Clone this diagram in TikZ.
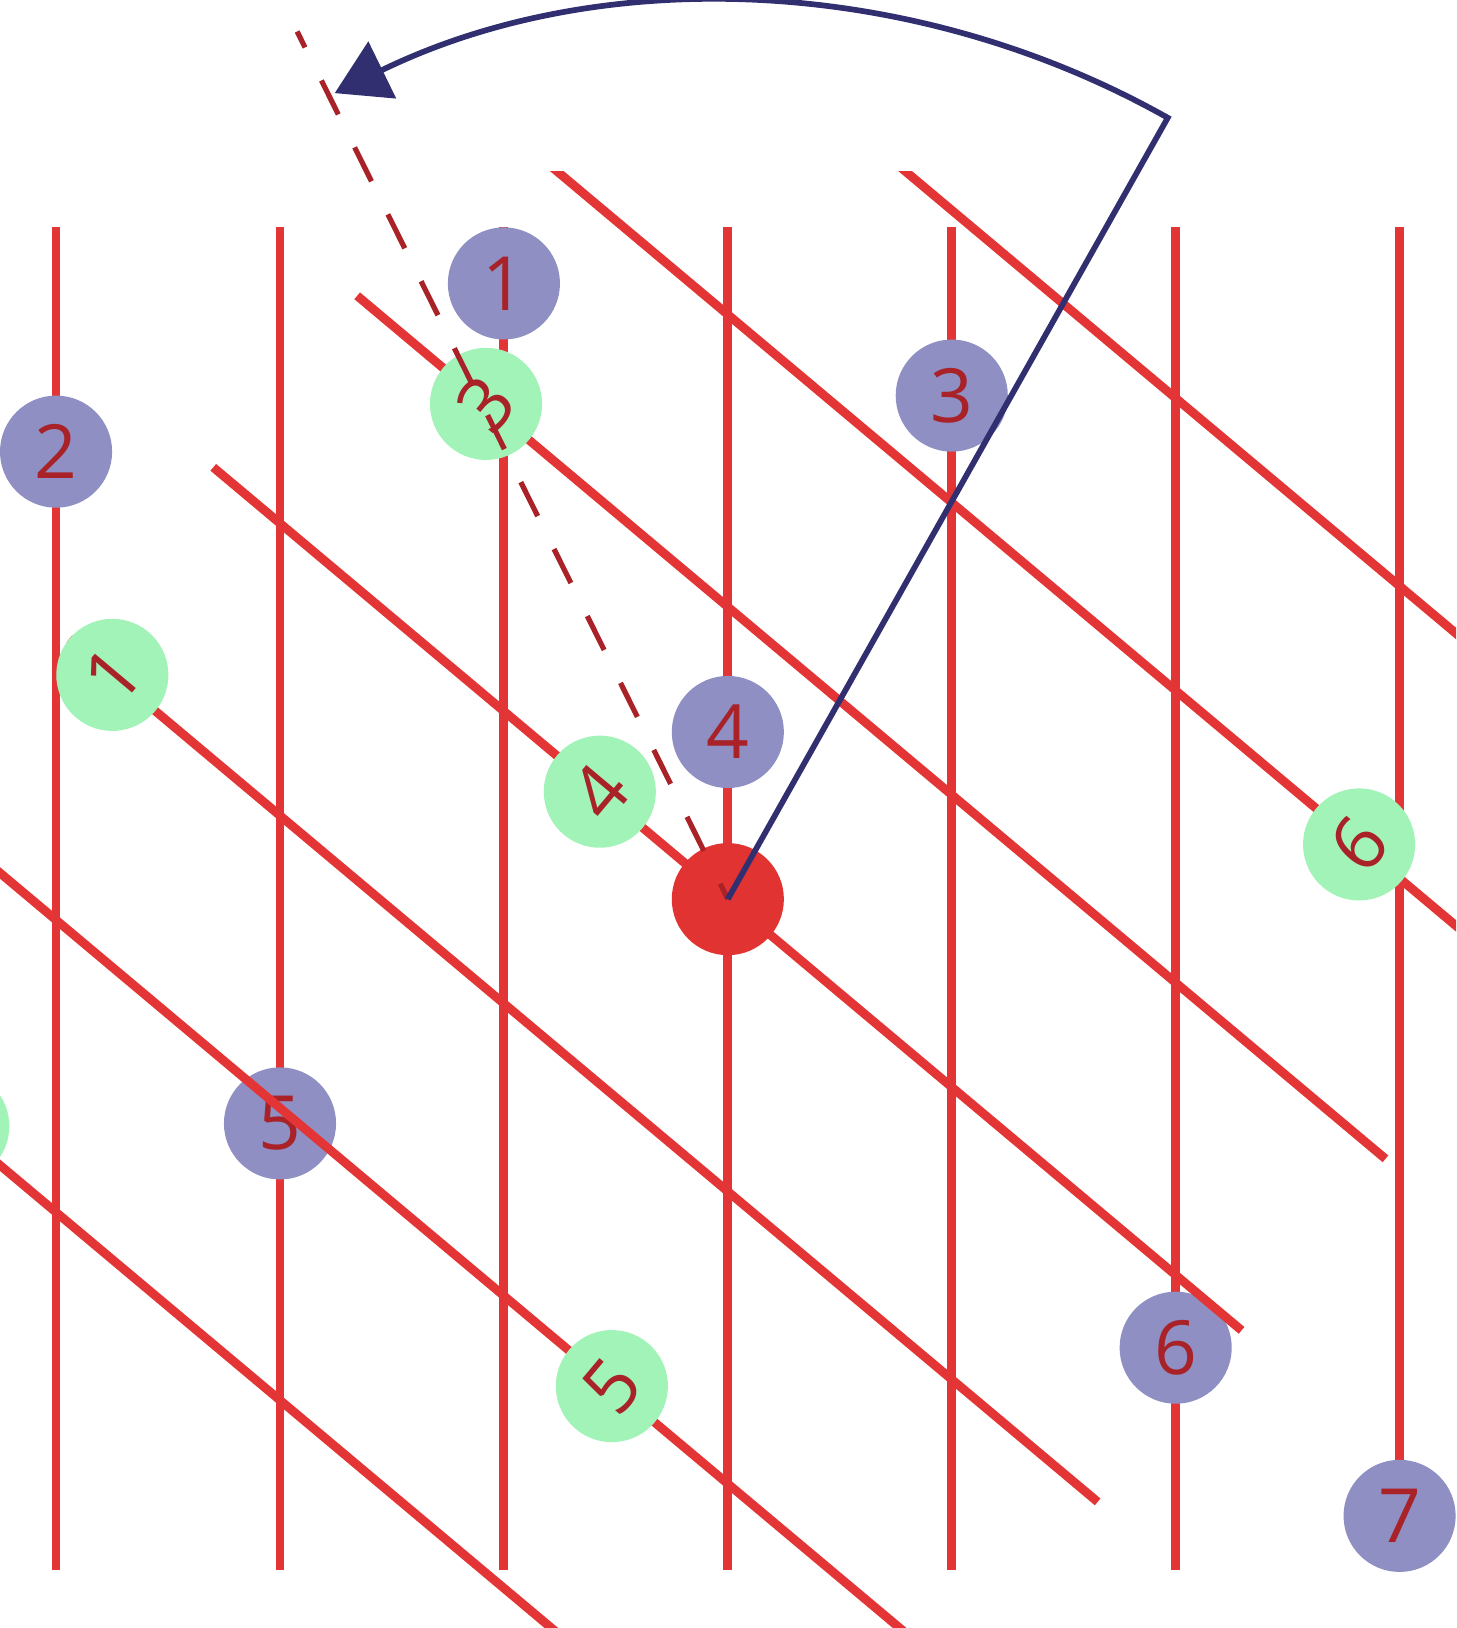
\documentclass[tikz,border=0pt]{standalone}
\usepackage{fontspec}
\setmainfont{Open Sans}
\usetikzlibrary{arrows.meta}
\definecolor{linered}{HTML}{E33535}
\definecolor{ballpurple}{HTML}{8F8FC3}
\definecolor{ballgreen}{HTML}{A2F3B8}
\definecolor{ballred}{HTML}{E23333}
\definecolor{textred}{HTML}{A82228}
\definecolor{navyline}{HTML}{312F70}
\begin{document}
\begin{tikzpicture}[x=0.02cm,y=-0.02cm,
  gridline/.style={draw=linered,line width=0.17cm},
  pball/.style={circle,fill=ballpurple,minimum size=2.16cm,inner sep=0pt,
    text=textred,font=\fontsize{41}{48}\selectfont},
  gball/.style={pball,fill=ballgreen,rotate=50},
  rball/.style={circle,fill=ballred,minimum size=2.16cm,inner sep=0pt},
  dashline/.style={draw=textred,line width=0.1cm,
    dash pattern=on 0.73cm off 0.71cm,dash phase=0.4cm},
  arcline/.style={draw=navyline,line width=0.11cm,
    -{Triangle[length=1.02cm,width=1.2cm]}}
]
\useasboundingbox (0,0) rectangle (1402.4,1568);
\clip (0,0) rectangle (1402.4,1568);

% vertical lattice lines
\foreach \x in {54,269.67,485.33,701,916.67,1132.33}
  \draw[gridline] (\x,219) -- (\x,1512);
\draw[gridline] (1348,219) -- (1348,1460);

% purple points
\node[pball] (p1) at (485.33,273) {1};
\node[pball] (p2) at (54,435) {2};
\node[pball] (p3) at (916.67,381) {3};
\node[pball] (p4) at (701,705) {4};
\node[pball] (p5) at (269.67,1082) {5};
\node[pball] (p6) at (1132.33,1298) {6};
\node[pball] (p7) at (1348,1460) {7};

% rotated lattice lines
\begin{scope}
  \clip (0,165) rectangle (1402.4,1568);
  \draw[gridline] (621.2,-45.5) -- (1611.6,785.7);
  \draw[gridline] (482.6,119.7) -- (1473,951);
  \draw[gridline] (344.0,284.9) -- (1334.4,1116.1);
  \draw[gridline] (205.4,450.1) -- (1195.8,1281.3);
  \draw[gridline] (66.8,615.3) -- (1057.2,1446.5);
  \draw[gridline] (-71.8,780.5) -- (918.6,1611.7);
  \draw[gridline] (-210.4,945.7) -- (780,1776.9);
\end{scope}

% green (rotated) points
\node[gball] (g1) at (108.2,650) {1};
\node[gball] (g2) at (-45,1084.6) {};
\node[gball] (g3) at (468.1,389) {3};
\node[gball] (g4) at (577.7,762.5) {4};
\node[gball] (g5) at (589.3,1335) {5};
\node[gball] (g6) at (1309,813.3) {6};

% centre
\node[rball] (R) at (701,866) {};

% dashed ray
\draw[dashline] (R.center) -- ++(-116.4:933);

% rotation arrow
\draw[arcline] (R.center) -- ++(-60.62:863.7)
  arc[start angle=-60.62, end angle=-116, radius=863.7];
\end{tikzpicture}
\end{document}
